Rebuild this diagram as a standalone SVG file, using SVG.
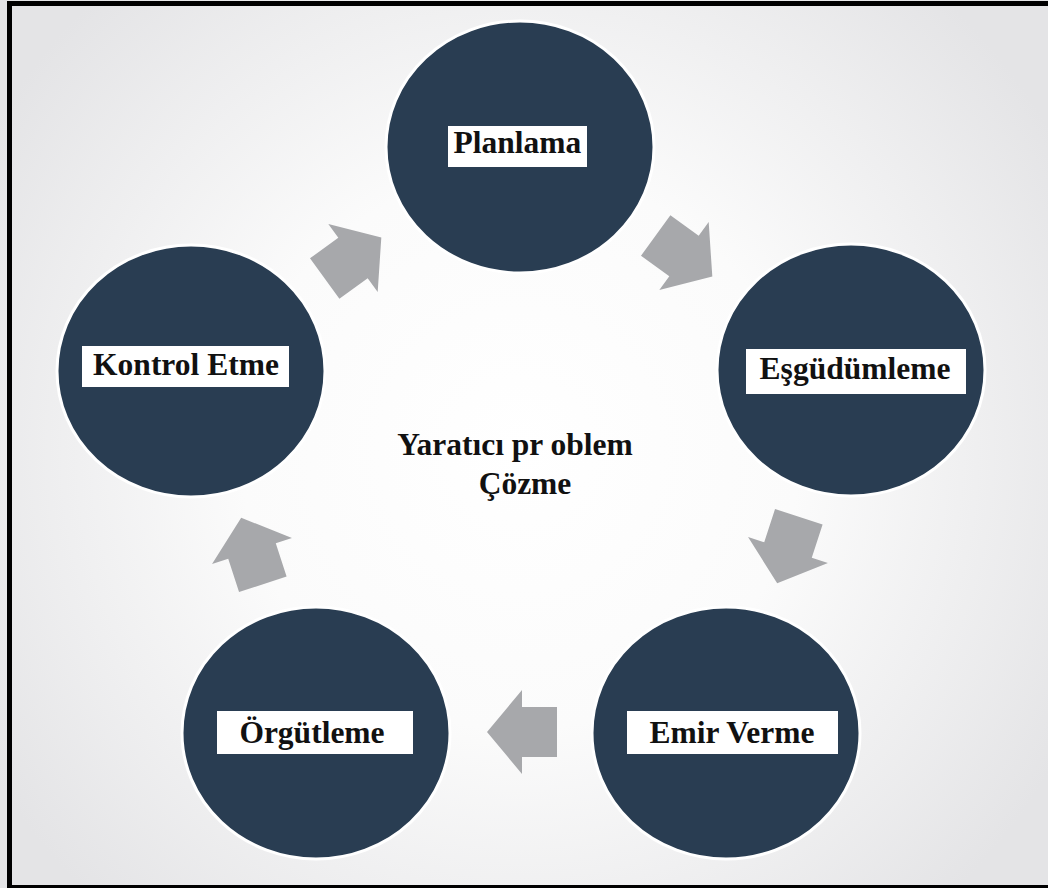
<svg xmlns="http://www.w3.org/2000/svg" width="1048" height="888" viewBox="0 0 1048 888">
  <defs>
    <radialGradient id="bg" cx="520" cy="450" r="620" gradientUnits="userSpaceOnUse">
      <stop offset="0" stop-color="#ffffff"/>
      <stop offset="0.45" stop-color="#fbfbfb"/>
      <stop offset="1" stop-color="#e4e4e6"/>
    </radialGradient>
    <!-- block arrow pointing right; origin at the base of the head -->
    <path id="blockArrow" d="M-35,-25 H0 V-42 L35,0 L0,42 V25 H-35 Z"/>
  </defs>
  <style>
    .disc { fill: #293d52; stroke: #ffffff; stroke-width: 3; }
    .tag { fill: #ffffff; }
    .label { font-family: "Liberation Serif", "Times New Roman", serif; font-weight: bold; font-size: 31.5px; fill: #111111; text-anchor: middle; }
    .arrow { fill: #a7a8ab; }
  </style>

  <rect x="0" y="0" width="1048" height="888" fill="url(#bg)"/>
  <rect x="9.5" y="3.5" width="1045" height="884" fill="none" stroke="#000000" stroke-width="5"/>

  <g id="connectors">
    <use href="#blockArrow" class="arrow" transform="translate(684,256) rotate(36)"/>
    <use href="#blockArrow" class="arrow" transform="translate(788,550) rotate(108)"/>
    <use href="#blockArrow" class="arrow" transform="translate(522,732) rotate(180)"/>
    <use href="#blockArrow" class="arrow" transform="translate(252,551) rotate(-108)"/>
    <use href="#blockArrow" class="arrow" transform="translate(353,258) rotate(-36)"/>
  </g>

  <g id="planlama">
    <ellipse class="disc" cx="520" cy="147" rx="134" ry="126"/>
    <rect class="tag" x="448" y="126" width="139" height="41"/>
    <text class="label" x="517.5" y="153">Planlama</text>
  </g>

  <g id="esgudumleme">
    <ellipse class="disc" cx="851" cy="370" rx="134" ry="126"/>
    <rect class="tag" x="746" y="349" width="220" height="45"/>
    <text class="label" x="855" y="379">Eşgüdümleme</text>
  </g>

  <g id="emir-verme">
    <ellipse class="disc" cx="726" cy="733" rx="134" ry="126"/>
    <rect class="tag" x="627" y="711" width="211" height="43"/>
    <text class="label" x="732" y="743">Emir Verme</text>
  </g>

  <g id="orgutleme">
    <ellipse class="disc" cx="316" cy="733" rx="134" ry="126"/>
    <rect class="tag" x="217" y="711" width="196" height="43"/>
    <text class="label" x="312" y="743">Örgütleme</text>
  </g>

  <g id="kontrol-etme">
    <ellipse class="disc" cx="191" cy="371" rx="134" ry="126"/>
    <rect class="tag" x="82" y="346" width="207" height="41"/>
    <text class="label" x="186" y="375">Kontrol Etme</text>
  </g>

  <g id="center-title">
    <text class="label" x="515" y="455">Yaratıcı pr oblem</text>
    <text class="label" x="525" y="494">Çözme</text>
  </g>
</svg>
